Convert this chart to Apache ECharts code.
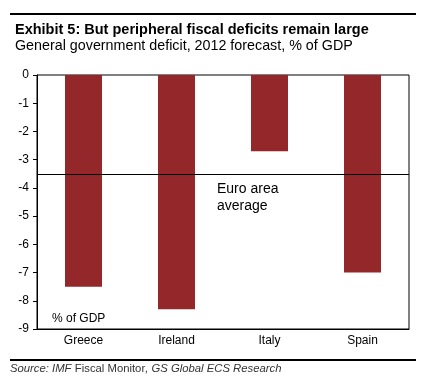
<!DOCTYPE html>
<html><head><meta charset="utf-8">
<script src="https://cdn.jsdelivr.net/npm/echarts@6/dist/echarts.min.js"></script>
<style>html,body{margin:0;padding:0;background:#fff}#c{width:426px;height:388px}</style>
</head><body><div id="c"></div>
<script>
const categories = ['Greece', 'Ireland', 'Italy', 'Spain'];
const deficits = [-7.5, -8.3, -2.7, -7.0];
const euroAverage = -3.5;
const yTicks = [0, -1, -2, -3, -4, -5, -6, -7, -8, -9];

const chart = echarts.init(document.getElementById('c'), null, {renderer: 'canvas'});
const font = 'Liberation Sans, Arial, sans-serif';
chart.setOption({
  animation: false,
  backgroundColor: '#fff',
  title: [
    {text: 'Exhibit 5: But peripheral fiscal deficits remain large', left: 10, top: 17,
     textStyle: {fontFamily: font, fontSize: 14.5, fontWeight: 'bold', color: '#000'}},
    {text: 'General government deficit, 2012 forecast, % of GDP', left: 10, top: 34,
     textStyle: {fontFamily: font, fontSize: 14.3, fontWeight: 'normal', color: '#000'}}
  ],
  grid: {left: 37, right: 17, top: 75, bottom: 59, show: true, borderColor: '#000', borderWidth: 1, backgroundColor: 'transparent'},
  xAxis: {
    type: 'category', data: categories, position: 'bottom',
    axisLine: {onZero: false, lineStyle: {color: '#000', width: 1}},
    axisTick: {show: false},
    axisLabel: {fontFamily: font, fontSize: 12, color: '#000', margin: 6}
  },
  yAxis: {
    type: 'value', min: -9, max: 0, interval: 1,
    axisLine: {show: true, lineStyle: {color: '#000', width: 1}},
    axisTick: {show: true, length: 4, lineStyle: {color: '#000'}},
    splitLine: {show: false},
    axisLabel: {fontFamily: font, fontSize: 12, color: '#000', margin: 8,
      formatter: v => yTicks.includes(v) ? String(v) : ''}
  },
  series: [{
    type: 'bar', data: deficits, barWidth: 37,
    itemStyle: {color: '#93272A'},
    markLine: {
      silent: true, symbol: 'none', label: {show: false},
      lineStyle: {color: '#000', width: 1, type: 'solid'},
      data: [{yAxis: euroAverage}]
    }
  }],
  graphic: [
    {type: 'rect', shape: {x: 10, y: 13, width: 406, height: 2}, style: {fill: '#000'}},
    {type: 'rect', shape: {x: 10, y: 359, width: 406, height: 2}, style: {fill: '#000'}},
    {type: 'text', left: 52, top: 313, style: {text: '% of GDP', font: '12px ' + font, fill: '#000'}},
    {type: 'text', left: 217, top: 181, style: {text: 'Euro area\naverage', font: '14px ' + font, fill: '#000', lineHeight: 17}},
    {type: 'text', left: 10, top: 363, style: {
      text: '{i|Source: IMF} {n|Fiscal Monitor}{i|, GS Global ECS Research}',
      rich: {
        i: {font: 'italic 11.3px ' + font, fill: '#333'},
        n: {font: '11.3px ' + font, fill: '#333'}
      }}}
  ]
});
</script></body></html>
